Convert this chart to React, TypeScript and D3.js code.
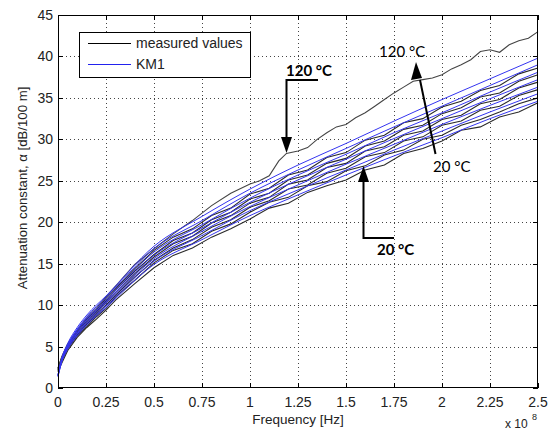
import React from "react";
import * as d3 from "d3";

const xTicks = [0, 0.25, 0.5, 0.75, 1, 1.25, 1.5, 1.75, 2, 2.25, 2.5];
const xTickLabels = ["0", "0.25", "0.5", "0.75", "1", "1.25", "1.5", "1.75", "2", "2.25", "2.5"];
const yTicks = [0, 5, 10, 15, 20, 25, 30, 35, 40, 45];

// KM1 model curves (frequency in 1e8 Hz)
const kmFreq = [0, 0.02, 0.05, 0.1, 0.15, 0.25, 0.5, 0.75, 1, 1.25, 1.5, 1.75, 2, 2.25, 2.5];
const km1_1 = [1.4, 3.2, 4.65, 6.3, 7.6, 9.7, 14.9, 17.9, 20.8, 23.3, 25.7, 28.0, 30.2, 32.5, 34.6];
const km1_2 = [1.4, 3.2, 4.8, 6.5, 7.8, 9.9, 15.3, 18.4, 21.4, 23.9, 26.3, 28.7, 31.0, 33.3, 35.5];
const km1_3 = [1.5, 3.3, 4.9, 6.6, 8.0, 10.2, 15.6, 18.9, 21.9, 24.5, 27.0, 29.4, 31.8, 34.1, 36.3];
const km1_4 = [1.5, 3.4, 5.0, 6.8, 8.2, 10.4, 16.0, 19.3, 22.4, 25.1, 27.6, 30.1, 32.5, 34.9, 37.2];
const km1_5 = [1.5, 3.5, 5.1, 7.0, 8.4, 10.6, 16.4, 19.7, 22.9, 25.7, 28.2, 30.8, 33.2, 35.7, 38.1];
const km1_6 = [1.6, 3.6, 5.2, 7.1, 8.6, 10.9, 16.8, 20.2, 23.5, 26.3, 28.9, 31.5, 34.0, 36.5, 39.0];
const km1_7 = [1.6, 3.6, 5.35, 7.3, 8.8, 11.1, 17.1, 20.7, 24.0, 26.9, 29.5, 32.2, 34.8, 37.3, 39.8];

// measured values
const measFreq = [0, 0.02, 0.05, 0.1, 0.15, 0.2, 0.25, 0.3, 0.4, 0.5, 0.6, 0.7, 0.8, 0.9, 1.0, 1.1, 1.2, 1.3, 1.4, 1.5, 1.6, 1.7, 1.8, 1.9, 2.0, 2.1, 2.2, 2.3, 2.4, 2.5];
const measured1 = [2.0, 3.0, 4.5, 6.1, 7.3, 8.3, 9.4, 10.6, 12.6, 14.5, 16.0, 16.9, 18.2, 19.2, 20.4, 21.7, 22.3, 23.6, 24.4, 25.1, 26.3, 26.9, 28.3, 28.9, 29.8, 31.1, 31.5, 32.7, 33.3, 34.4];
const measured2 = [2.0, 3.3, 4.7, 6.3, 7.4, 8.6, 9.6, 11.0, 13.0, 15.1, 16.6, 17.4, 18.9, 19.8, 21.2, 22.4, 23.0, 24.4, 24.9, 26.2, 26.8, 28.1, 28.7, 30.0, 30.5, 31.7, 32.4, 33.3, 34.3, 35.0];
const measured3 = [2.2, 3.4, 4.8, 6.4, 7.7, 8.8, 10.0, 11.2, 13.4, 15.4, 16.9, 17.9, 19.4, 20.3, 21.8, 22.6, 24.0, 24.5, 25.9, 26.5, 27.9, 28.4, 29.8, 30.3, 31.7, 32.2, 33.5, 34.0, 35.3, 36.0];
const measured4 = [2.2, 3.5, 5.0, 6.6, 7.9, 9.0, 10.3, 11.5, 13.8, 15.8, 17.4, 18.3, 19.9, 20.8, 22.3, 23.0, 24.6, 25.1, 26.6, 27.1, 28.6, 29.1, 30.5, 31.0, 32.4, 32.9, 34.3, 34.8, 36.2, 36.9];
const measured5 = [2.3, 3.6, 5.1, 6.8, 8.1, 9.2, 10.5, 11.8, 14.1, 16.1, 17.8, 18.7, 20.3, 21.2, 22.8, 23.5, 25.1, 25.7, 27.1, 27.7, 29.2, 29.8, 31.2, 31.7, 33.1, 33.8, 35.1, 35.6, 37.0, 37.8];
const measured6 = [2.4, 3.7, 5.2, 6.9, 8.3, 9.4, 10.8, 12.0, 14.4, 16.6, 18.2, 19.2, 20.8, 21.7, 23.4, 24.1, 25.7, 26.3, 27.8, 28.4, 29.9, 30.5, 32.0, 32.5, 33.9, 34.6, 35.9, 36.5, 37.9, 38.6];
const measured7Freq = [0, 0.02, 0.05, 0.1, 0.15, 0.2, 0.25, 0.3, 0.4, 0.5, 0.6, 0.7, 0.8, 0.9, 1.0, 1.05, 1.1, 1.15, 1.19, 1.25, 1.3, 1.35, 1.4, 1.45, 1.5, 1.55, 1.6, 1.65, 1.7, 1.75, 1.8, 1.85, 1.9, 1.95, 2.0, 2.05, 2.1, 2.15, 2.2, 2.25, 2.3, 2.35, 2.4, 2.45, 2.5];
const measured7 = [2.4, 3.8, 5.3, 7.0, 8.5, 9.6, 11.0, 12.3, 14.9, 16.8, 18.6, 20.2, 22.0, 23.5, 24.6, 25.0, 25.6, 27.4, 28.3, 28.6, 29.0, 30.0, 30.8, 31.5, 31.8, 32.6, 33.2, 34.0, 34.8, 35.6, 36.3, 37.0, 37.2, 37.4, 37.8, 38.5, 39.0, 39.6, 40.6, 40.8, 40.5, 41.4, 41.9, 42.2, 43.0];

const kmSeries = [km1_1, km1_2, km1_3, km1_4, km1_5, km1_6, km1_7];
const measuredSeries = [measured1, measured2, measured3, measured4, measured5, measured6];

const W = 553, H = 430;
const L = 58, R = 538, T = 15, B = 388;

export default function App() {
  const x = d3.scaleLinear().domain([0, 2.5]).range([L, R]);
  const y = d3.scaleLinear().domain([0, 45]).range([B, T]);
  const line = d3.line<[number, number]>().x(d => x(d[0])).y(d => y(d[1]));
  const smooth = d3.line<[number, number]>().x(d => x(d[0])).y(d => y(d[1])).curve(d3.curveMonotoneX);
  const tickFont = "Liberation Sans, Arial, sans-serif";
  const annFont = "Lato, 'Open Sans', sans-serif";

  return (
    <svg width={W} height={H} style={{ position: "absolute", left: 0, top: 0, background: "#fff" }}>
      <rect x={0} y={0} width={W} height={H} fill="#fff" />
      {/* grid */}
      <g stroke="#444" strokeWidth={1} strokeDasharray="1,3">
        {xTicks.slice(1, -1).map(t => (
          <line key={"gx" + t} x1={Math.round(x(t)) + 0.5} x2={Math.round(x(t)) + 0.5} y1={T} y2={B} />
        ))}
        {yTicks.slice(1, -1).map(t => (
          <line key={"gy" + t} x1={L} x2={R} y1={Math.round(y(t)) + 0.5} y2={Math.round(y(t)) + 0.5} />
        ))}
      </g>
      {/* curves */}
      <g fill="none">
        {measuredSeries.map((s, i) => (
          <path key={"m" + i} d={line(measFreq.map((f, j) => [f, s[j]] as [number, number])) || ""}
            stroke="#2a2a2a" strokeWidth={1.1} />
        ))}
        <path d={line(measured7Freq.map((f, j) => [f, measured7[j]] as [number, number])) || ""}
          stroke="#444" strokeWidth={1.1} />
        {kmSeries.map((s, i) => (
          <path key={"k" + i} d={smooth(kmFreq.map((f, j) => [f, s[j]] as [number, number])) || ""}
            stroke="#3535f0" strokeWidth={1} />
        ))}
      </g>
      {/* frame and ticks */}
      <rect x={L + 0.5} y={T + 0.5} width={R - L - 1} height={B - T - 1} fill="none" stroke="#000" strokeWidth={1} />
      <g stroke="#000" strokeWidth={1}>
        {xTicks.map(t => (
          <g key={"tx" + t}>
            <line x1={Math.round(x(t)) + 0.5} x2={Math.round(x(t)) + 0.5} y1={B} y2={B - 5} />
            <line x1={Math.round(x(t)) + 0.5} x2={Math.round(x(t)) + 0.5} y1={T} y2={T + 5} />
          </g>
        ))}
        {yTicks.map(t => (
          <g key={"ty" + t}>
            <line x1={L} x2={L + 5} y1={Math.round(y(t)) + 0.5} y2={Math.round(y(t)) + 0.5} />
            <line x1={R} x2={R - 5} y1={Math.round(y(t)) + 0.5} y2={Math.round(y(t)) + 0.5} />
          </g>
        ))}
      </g>
      {/* tick labels */}
      <g fontFamily={tickFont} fontSize={14} fill="#222">
        {xTicks.map((t, i) => (
          <text key={"lx" + t} x={x(t)} y={407} textAnchor="middle">{xTickLabels[i]}</text>
        ))}
        {yTicks.map(t => (
          <text key={"ly" + t} x={53} y={y(t) + 5} textAnchor="end">{t}</text>
        ))}
        <text x={298} y={424} textAnchor="middle" fontSize={13.5}>Frequency [Hz]</text>
        <text x={505} y={428} fontSize={12}>x 10</text>
        <text x={532} y={420} fontSize={9}>8</text>
        <text transform="translate(27,188) rotate(-90)" textAnchor="middle" fontSize={13.2}>
          Attenuation constant, α [dB/100 m]
        </text>
      </g>
      {/* legend */}
      <rect x={79.5} y={32.5} width={171} height={45} fill="#fff" stroke="#000" strokeWidth={1} />
      <line x1={88} x2={131} y1={43.5} y2={43.5} stroke="#000" strokeWidth={1} />
      <line x1={88} x2={131} y1={64.5} y2={64.5} stroke="#2222ee" strokeWidth={1} />
      <g fontFamily={tickFont} fontSize={14} fill="#222">
        <text x={136} y={48}>measured values</text>
        <text x={136} y={69}>KM1</text>
      </g>
      {/* annotations */}
      <g fill="none" stroke="#000" strokeWidth={2}>
        <path d="M318,80 L286.5,80 L286.5,140" />
        <path d="M394,238 L363.5,238 L363.5,180" />
        <path d="M435.5,154 L420,80" />
      </g>
      <g fill="#000">
        <path d="M281,137 L292,137 L286.5,153 z" />
        <path d="M358,182 L369,182 L363.5,166 z" />
        <path d="M411,80 L422,78 L416,62 z" />
      </g>
      <g fontFamily={annFont} fill="#000">
        <text x={286} y={76} fontSize={15} fontWeight="bold">120 °C</text>
        <text x={377} y={255} fontSize={15} fontWeight="bold">20 °C</text>
        <text x={379} y={57} fontSize={15}>120 °C</text>
        <text x={433} y={172} fontSize={15}>20 °C</text>
      </g>
    </svg>
  );
}
